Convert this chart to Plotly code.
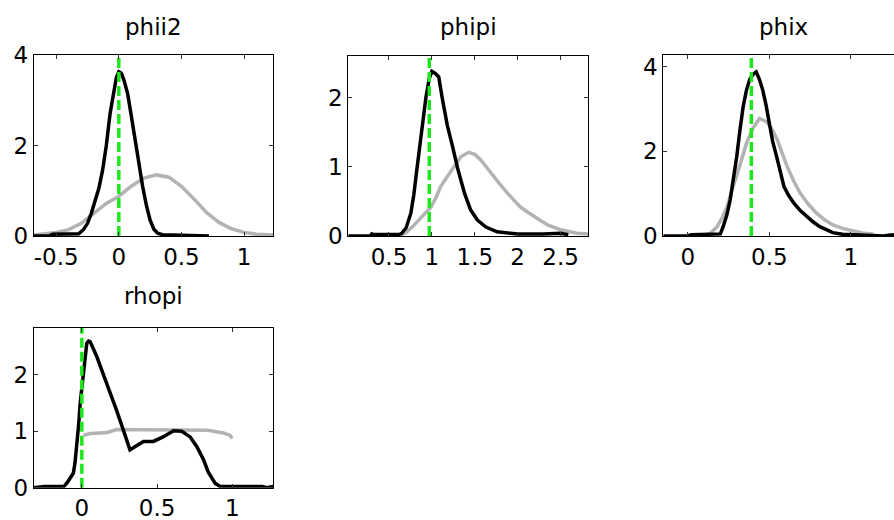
import plotly.graph_objects as go

W, H = 894, 520

# ---------------- data ----------------
titles = ["phii2", "phipi", "phix", "rhopi"]

# phii2
phii2_post_x = [-0.68, -0.56, -0.53, -0.40, -0.32, -0.28, -0.25, -0.22, -0.19, -0.16, -0.13, -0.10, -0.07,
                -0.04, -0.02, 0.0, 0.02, 0.04, 0.07, 0.10, 0.13, 0.16, 0.19, 0.22, 0.25, 0.28, 0.31, 0.35,
                0.45, 0.55, 0.65, 0.72]
phii2_post_y = [0.0, 0.0, 0.04, 0.04, 0.05, 0.15, 0.28, 0.5, 0.78, 1.05, 1.45, 2.0, 2.7,
                3.25, 3.5, 3.63, 3.6, 3.45, 3.15, 2.65, 2.1, 1.6, 1.1, 0.68, 0.35, 0.15, 0.06, 0.03,
                0.02, 0.01, 0.01, 0.0]
phii2_prior_x = [-0.68, -0.6, -0.5, -0.4, -0.3, -0.2, -0.1, 0.0, 0.1, 0.2, 0.3, 0.4, 0.5, 0.6, 0.7, 0.8,
                 0.9, 1.0, 1.1, 1.234]
phii2_prior_y = [0.02, 0.04, 0.08, 0.14, 0.28, 0.5, 0.72, 0.88, 1.1, 1.28, 1.35, 1.3, 1.1, 0.82, 0.52, 0.3,
                 0.16, 0.08, 0.04, 0.02]
phii2_mode = 0.0

# phipi
phipi_post_x = [0.026, 0.28, 0.30, 0.32, 0.55, 0.62, 0.65, 0.70, 0.755, 0.79, 0.82, 0.86, 0.89, 0.93, 0.97,
                1.0, 1.04, 1.08, 1.12, 1.18, 1.24, 1.30, 1.38, 1.45, 1.53, 1.63, 1.76, 2.0, 2.3, 2.5, 2.59]
phipi_post_y = [0.0, 0.0, 0.03, 0.02, 0.02, 0.02, 0.04, 0.12, 0.33, 0.6, 0.91, 1.3, 1.63, 2.0, 2.28,
                2.38, 2.35, 2.3, 2.0, 1.6, 1.3, 0.98, 0.62, 0.38, 0.23, 0.13, 0.06, 0.03, 0.03, 0.04, 0.02]
phipi_prior_x = [0.62, 0.70, 0.78, 0.86, 0.92, 0.99, 1.05, 1.1, 1.18, 1.26, 1.34, 1.43, 1.50, 1.57, 1.65,
                 1.72, 1.80, 1.88, 1.95, 2.03, 2.11, 2.19, 2.27, 2.35, 2.5, 2.69, 2.823]
phipi_prior_y = [0.0, 0.05, 0.14, 0.24, 0.32, 0.42, 0.56, 0.71, 0.86, 1.0, 1.15, 1.21, 1.18, 1.1, 0.97,
                 0.86, 0.74, 0.62, 0.52, 0.42, 0.35, 0.28, 0.22, 0.16, 0.09, 0.04, 0.03]
phipi_mode = 0.97

# phix
phix_post_x = [-0.15, 0.0, 0.02, 0.17, 0.2, 0.217, 0.24, 0.26, 0.28, 0.30, 0.32, 0.34, 0.36, 0.38, 0.40,
               0.42, 0.44, 0.46, 0.48, 0.50, 0.52, 0.55, 0.59, 0.62, 0.65, 0.69, 0.73, 0.77, 0.81, 0.85,
               0.89, 0.95, 1.05, 1.15, 1.2, 1.23, 1.265]
phix_post_y = [0.0, 0.0, 0.03, 0.03, 0.05, 0.22, 0.5, 0.85, 1.35, 1.87, 2.5, 3.06, 3.45, 3.7, 3.82,
               3.88, 3.7, 3.45, 3.1, 2.67, 2.25, 1.8, 1.17, 0.95, 0.78, 0.6, 0.46, 0.33, 0.22, 0.14,
               0.08, 0.04, 0.03, 0.02, 0.0, 0.02, 0.03]
phix_prior_x = [0.1, 0.14, 0.18, 0.21, 0.24, 0.27, 0.30, 0.33, 0.36, 0.40, 0.44, 0.485, 0.52, 0.55, 0.58,
                0.61, 0.65, 0.69, 0.74, 0.79, 0.84, 0.89, 0.95, 1.0, 1.07, 1.14]
phix_prior_y = [0.0, 0.07, 0.22, 0.42, 0.69, 1.05, 1.4, 1.8, 2.19, 2.55, 2.78, 2.7, 2.5, 2.27, 1.95,
                1.64, 1.3, 1.01, 0.75, 0.54, 0.38, 0.26, 0.18, 0.13, 0.07, 0.04]
phix_mode = 0.39

# rhopi
rhopi_post_x = [-0.32, -0.25, -0.12, -0.10, -0.075, -0.056, -0.045, -0.033, -0.02, -0.011, 0.0, 0.01, 0.02,
                0.033, 0.045, 0.055, 0.075, 0.10, 0.13, 0.166, 0.20, 0.23, 0.27, 0.32, 0.35, 0.41, 0.476,
                0.54, 0.61, 0.664, 0.72, 0.764, 0.81, 0.84, 0.886, 0.92, 1.0, 1.1, 1.2, 1.23, 1.273]
rhopi_post_y = [0.0, 0.02, 0.02, 0.08, 0.18, 0.26, 0.45, 0.73, 1.15, 1.5, 1.75, 1.97, 2.2,
                2.56, 2.6, 2.59, 2.47, 2.32, 2.1, 1.85, 1.6, 1.38, 1.07, 0.67, 0.72, 0.82, 0.82,
                0.9, 1.01, 1.0, 0.9, 0.73, 0.49, 0.28, 0.08, 0.02, 0.02, 0.02, 0.02, 0.0, 0.02]
rhopi_prior_x = [0.01, 0.055, 0.12, 0.17, 0.23, 0.3, 0.4, 0.5, 0.6, 0.7, 0.8, 0.83, 0.875, 0.94, 0.985, 1.0]
rhopi_prior_y = [0.93, 0.96, 0.97, 0.98, 1.03, 1.03, 1.03, 1.03, 1.03, 1.03, 1.03, 1.02, 1.0, 0.97, 0.93, 0.87]
rhopi_mode = 0.0

posts = [(phii2_post_x, phii2_post_y), (phipi_post_x, phipi_post_y),
         (phix_post_x, phix_post_y), (rhopi_post_x, rhopi_post_y)]
priors = [(phii2_prior_x, phii2_prior_y), (phipi_prior_x, phipi_prior_y),
          (phix_prior_x, phix_prior_y), (rhopi_prior_x, rhopi_prior_y)]
modes = [phii2_mode, phipi_mode, phix_mode, rhopi_mode]

x_ranges = [[-0.68, 1.234], [0.026, 2.823], [-0.15, 1.265], [-0.32, 1.273]]
y_ranges = [[0, 4], [0, 2.61], [0, 4.28], [0, 2.83]]
x_ticks = [[-0.5, 0, 0.5, 1], [0.5, 1, 1.5, 2, 2.5], [0, 0.5, 1], [0, 0.5, 1]]
x_ticktext = [["-0.5", "0", "0.5", "1"], ["0.5", "1", "1.5", "2", "2.5"], ["0", "0.5", "1"], ["0", "0.5", "1"]]
y_ticks = [[0, 2, 4], [0, 1, 2], [0, 2, 4], [0, 1, 2]]

# ---------------- layout geometry (pixels) ----------------
boxes_px = [(33.7, 273.3, 55, 236), (348.3, 588.3, 55.5, 236), (663.3, 894, 55, 236), (33.7, 273.3, 328, 487.7)]
title_y_px = [27, 27, 27, 296]

FONT = "DejaVu Sans"
fig = go.Figure()
annotations = []
for i in range(4):
    n = "" if i == 0 else str(i + 1)
    xa, ya = "x" + n, "y" + n
    l, r, t, b = boxes_px[i]
    px, py = priors[i]
    qx, qy = posts[i]
    fig.add_trace(go.Scatter(x=px, y=py, mode="lines", line=dict(color="#b3b3b3", width=3.5),
                             xaxis=xa, yaxis=ya, showlegend=False, hoverinfo="skip"))
    fig.add_trace(go.Scatter(x=qx, y=qy, mode="lines", line=dict(color="black", width=3.5),
                             xaxis=xa, yaxis=ya, showlegend=False, hoverinfo="skip"))
    fig.add_trace(go.Scatter(x=[modes[i], modes[i]], y=[y_ranges[i][0], y_ranges[i][1]], mode="lines",
                             line=dict(color="#1ee61e", width=3.5, dash="10px,4px"),
                             xaxis=xa, yaxis=ya, showlegend=False, hoverinfo="skip"))
    common = dict(showgrid=False, zeroline=False, showline=True, linecolor="black", linewidth=1,
                  ticks="inside", ticklen=4, tickwidth=1, tickcolor="#333333",
                  tickfont=dict(family=FONT, size=23, color="black"), automargin=False)
    fig.layout["xaxis" + n] = dict(domain=[l / W, r / W], anchor=ya, range=x_ranges[i],
                                   tickmode="array", tickvals=x_ticks[i], ticktext=x_ticktext[i],
                                   mirror="ticks", **common)
    fig.layout["yaxis" + n] = dict(domain=[1 - b / H, 1 - t / H], anchor=xa, range=y_ranges[i],
                                   tickmode="array", tickvals=y_ticks[i],
                                   mirror=("ticks" if i != 2 else False), **common)
    annotations.append(dict(text=titles[i], x=(l + (r if i != 2 else l + 239.5)) / 2 / W, y=1 - title_y_px[i] / H,
                            xref="paper", yref="paper", xanchor="center", yanchor="middle",
                            showarrow=False, font=dict(family=FONT, size=23, color="black")))

fig.update_layout(width=W, height=H, margin=dict(l=0, r=0, t=0, b=0, autoexpand=False),
                  paper_bgcolor="white", plot_bgcolor="white", annotations=annotations)
fig.write_html("out.html")
